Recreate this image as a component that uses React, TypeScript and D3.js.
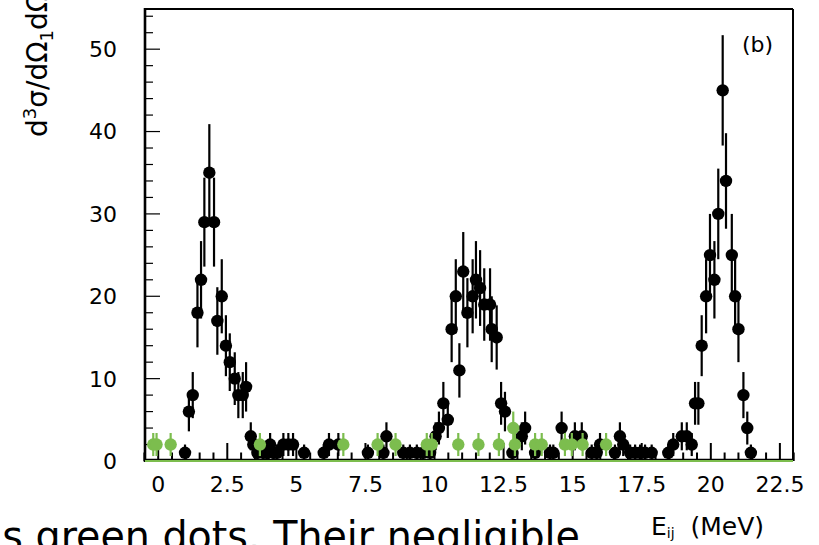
import React from "react";
import * as d3 from "d3";

// Black data points: energy E_ij (MeV), cross section, error
const blackE = [
  0.97, 1.11, 1.25, 1.42, 1.55, 1.67, 1.85, 2.02, 2.14, 2.3, 2.45, 2.59, 2.77, 2.9, 3.06, 3.18, 3.35, 3.44, 3.59,
  3.8, 3.93, 4.05, 4.17, 4.3, 4.53, 4.71, 4.88, 5.28, 5.99, 6.18, 6.52, 7.59, 8.15, 8.26, 8.87, 9.11, 9.36, 9.59, 9.84,
  10.04, 10.16, 10.32, 10.48, 10.62, 10.77, 10.9, 11.04, 11.19, 11.38, 11.5, 11.65, 11.8, 12.01, 12.07, 12.25, 12.41, 12.55,
  12.82, 13.16, 13.28, 13.64, 14.18, 14.3, 14.6, 15.08, 15.33, 15.69, 15.87, 15.99, 16.53, 16.71, 16.83, 17.08, 17.26,
  17.44, 17.62, 17.86, 18.46, 18.64, 18.95, 19.13, 19.31, 19.43, 19.55, 19.67, 19.83, 19.97, 20.13, 20.27, 20.43, 20.55,
  20.76, 20.88, 21.0, 21.18, 21.32, 21.45,
];
const blackV = [
  1, 6, 8, 18, 22, 29, 35, 29, 17, 20, 14, 12, 10, 8, 8, 9, 3, 2, 1,
  1, 1, 2, 1, 1, 2, 2, 2, 1, 1, 2, 2, 1, 1, 3, 1, 1, 1, 1, 1,
  3, 4, 7, 5, 16, 20, 11, 23, 18, 20, 22, 21, 19, 19, 16, 15, 7, 6,
  1, 3, 4, 1, 1, 1, 4, 3, 3, 1, 1, 2, 1, 3, 2, 1, 1,
  1, 1, 1, 1, 2, 3, 3, 2, 7, 7, 14, 20, 25, 22, 30, 45, 34,
  25, 20, 16, 8, 4, 1,
];
const blackErr = [
  1.0, 2.4, 2.8, 4.2, 4.7, 5.4, 5.9, 5.4, 4.1, 4.5, 3.7, 3.5, 3.2, 2.8, 2.8, 3.0, 1.7, 1.4, 1.0,
  1.0, 1.0, 1.4, 1.0, 1.0, 1.4, 1.4, 1.4, 1.0, 1.0, 1.4, 1.4, 1.0, 1.0, 1.7, 1.0, 1.0, 1.0, 1.0, 1.0,
  1.7, 2.0, 2.6, 2.2, 4.0, 4.5, 3.3, 4.8, 4.2, 4.5, 4.7, 4.6, 4.4, 4.4, 4.0, 3.9, 2.6, 2.4,
  1.0, 1.7, 2.0, 1.0, 1.0, 1.0, 2.0, 1.7, 1.7, 1.0, 1.0, 1.4, 1.0, 1.7, 1.4, 1.0, 1.0,
  1.0, 1.0, 1.0, 1.0, 1.4, 1.7, 1.7, 1.4, 2.6, 2.6, 3.7, 4.5, 5.0, 4.7, 5.5, 6.7, 5.8,
  5.0, 4.5, 4.0, 2.8, 2.0, 1.0,
];

// Green data points
const greenE = [-0.18, -0.06, 0.45, 3.68, 6.7, 7.94, 8.59, 9.72, 9.9, 10.86, 11.59, 12.33, 12.85, 12.91, 13.64, 13.88, 14.72, 14.97, 15.36, 16.21];
const greenV = [2, 2, 2, 2, 2, 2, 2, 2, 2, 2, 2, 2, 4, 2, 2, 2, 2, 2, 2, 2];
const greenErr = [1.4, 1.4, 1.4, 1.4, 1.4, 1.4, 1.4, 1.4, 1.4, 1.4, 1.4, 1.4, 2.0, 1.4, 1.4, 1.4, 1.4, 1.4, 1.4, 1.4];

const xTickLabels = ["0", "2.5", "5", "7.5", "10", "12.5", "15", "17.5", "20", "22.5"];
const yTickLabels = ["0", "10", "20", "30", "40", "50"];

const GREEN = "#7cbd4e";
const FONT = "'DejaVu Sans', Verdana, sans-serif";

export default function App() {
  const W = 819;
  const H = 545;
  const x = d3.scaleLinear().domain([-0.5, 23]).range([144.4, 793.7]);
  const y = d3.scaleLinear().domain([0, 55]).range([461, 8]);

  const left = 145;
  const right = 793;
  const top = 9;
  const bottom = y(0);

  const xMajor = xTickLabels.map(Number);
  const xMinor = d3.range(-0.5, 23.01, 0.5).filter((v) => Math.abs(v / 2.5 - Math.round(v / 2.5)) > 1e-6);
  const yMajor = yTickLabels.map(Number);
  const yMinor = d3.range(0, 55.01, 2).filter((v) => v % 10 !== 0);

  const pts = (E: number[], V: number[], Err: number[]) =>
    E.map((e, i) => ({ e, v: V[i], err: Err[i] }));
  const black = pts(blackE, blackV, blackErr);
  const green = pts(greenE, greenV, greenErr);

  const r = 6.2;

  return (
    <svg width={W} height={H} style={{ position: "absolute", left: 0, top: 0, background: "#fff" }}>
      {/* frame */}
      <line x1={left} x2={right} y1={top} y2={top} stroke="#000" strokeWidth={2} />
      <line x1={right} x2={right} y1={top} y2={bottom} stroke="#000" strokeWidth={2} />
      <line x1={left} x2={left} y1={top - 1} y2={bottom + 1} stroke="#000" strokeWidth={2.6} />
      <line x1={left} x2={right} y1={bottom - 1.5} y2={bottom - 1.5} stroke="#000" strokeWidth={1.5} />

      {/* y ticks */}
      {yMajor.map((v) => (
        <line key={"ym" + v} x1={left} x2={left + 15} y1={y(v)} y2={y(v)} stroke="#000" strokeWidth={1.2} />
      ))}
      {yMinor.map((v) => (
        <line key={"yn" + v} x1={left} x2={left + 8} y1={y(v)} y2={y(v)} stroke="#000" strokeWidth={1.2} />
      ))}
      {/* x ticks */}
      {xMajor.map((v) => (
        <line key={"xm" + v} x1={x(v)} x2={x(v)} y1={bottom} y2={bottom - 18} stroke="#000" strokeWidth={2} />
      ))}
      {xMinor.map((v) => (
        <line key={"xn" + v} x1={x(v)} x2={x(v)} y1={bottom} y2={bottom - 8.5} stroke="#000" strokeWidth={2} />
      ))}

      {/* black points */}
      {black.map((p, i) => (
        <g key={"b" + i}>
          <line
            x1={x(p.e)}
            x2={x(p.e)}
            y1={y(Math.max(0, p.v - p.err))}
            y2={y(p.v + p.err)}
            stroke="#000"
            strokeWidth={2.2}
          />
          <circle cx={x(p.e)} cy={y(p.v)} r={r} fill="#000" />
        </g>
      ))}
      {/* green points */}
      {green.map((p, i) => (
        <g key={"g" + i}>
          <line
            x1={x(p.e)}
            x2={x(p.e)}
            y1={y(Math.max(0, p.v - p.err))}
            y2={y(p.v + p.err)}
            stroke={GREEN}
            strokeWidth={2.2}
          />
          <circle cx={x(p.e)} cy={y(p.v)} r={r} fill={GREEN} />
        </g>
      ))}

      {/* zero line */}
      <line x1={left} x2={right} y1={bottom} y2={bottom} stroke={GREEN} strokeWidth={2.2} />

      {/* tick labels */}
      {yMajor.map((v, i) => (
        <text key={"yl" + v} x={117} y={y(v)} dy="0.36em" textAnchor="end" fontFamily={FONT} fontSize={22} fill="#000">
          {yTickLabels[i]}
        </text>
      ))}
      {xMajor.map((v, i) => (
        <text key={"xl" + v} x={x(v)} y={492} textAnchor="middle" fontFamily={FONT} fontSize={22} fill="#000">
          {xTickLabels[i]}
        </text>
      ))}

      {/* y axis title */}
      <text transform="translate(47,137) rotate(-90)" fontFamily={FONT} fontSize={28} fill="#000">
        d<tspan fontSize={18} dy={-11}>3</tspan>
        <tspan dy={11}>σ/dΩ</tspan>
        <tspan fontSize={18} dy={6}>1</tspan>
        <tspan dy={-6}>dΩ</tspan>
        <tspan fontSize={18} dy={6}>2</tspan>
        <tspan dy={-6}>dE</tspan>
      </text>

      {/* x axis title */}
      <text x={651} y={535} fontFamily={FONT} fontSize={25} fill="#000">
        E<tspan fontSize={14} dy={3}>ij</tspan>
        <tspan dy={-3}>{"\u00a0\u00a0(MeV)"}</tspan>
      </text>

      {/* panel label */}
      <text x={742} y={52} fontFamily={FONT} fontSize={22} fill="#000">
        (b)
      </text>

      {/* surrounding document text */}
      <text
        x={-22}
        y={550}
        fontFamily="'Comic Sans MS', 'DejaVu Sans', sans-serif"
        fontSize={40}
        fill="#000"
        textLength={602}
        lengthAdjust="spacingAndGlyphs"
      >
        as green dots. Their negligible
      </text>
    </svg>
  );
}
